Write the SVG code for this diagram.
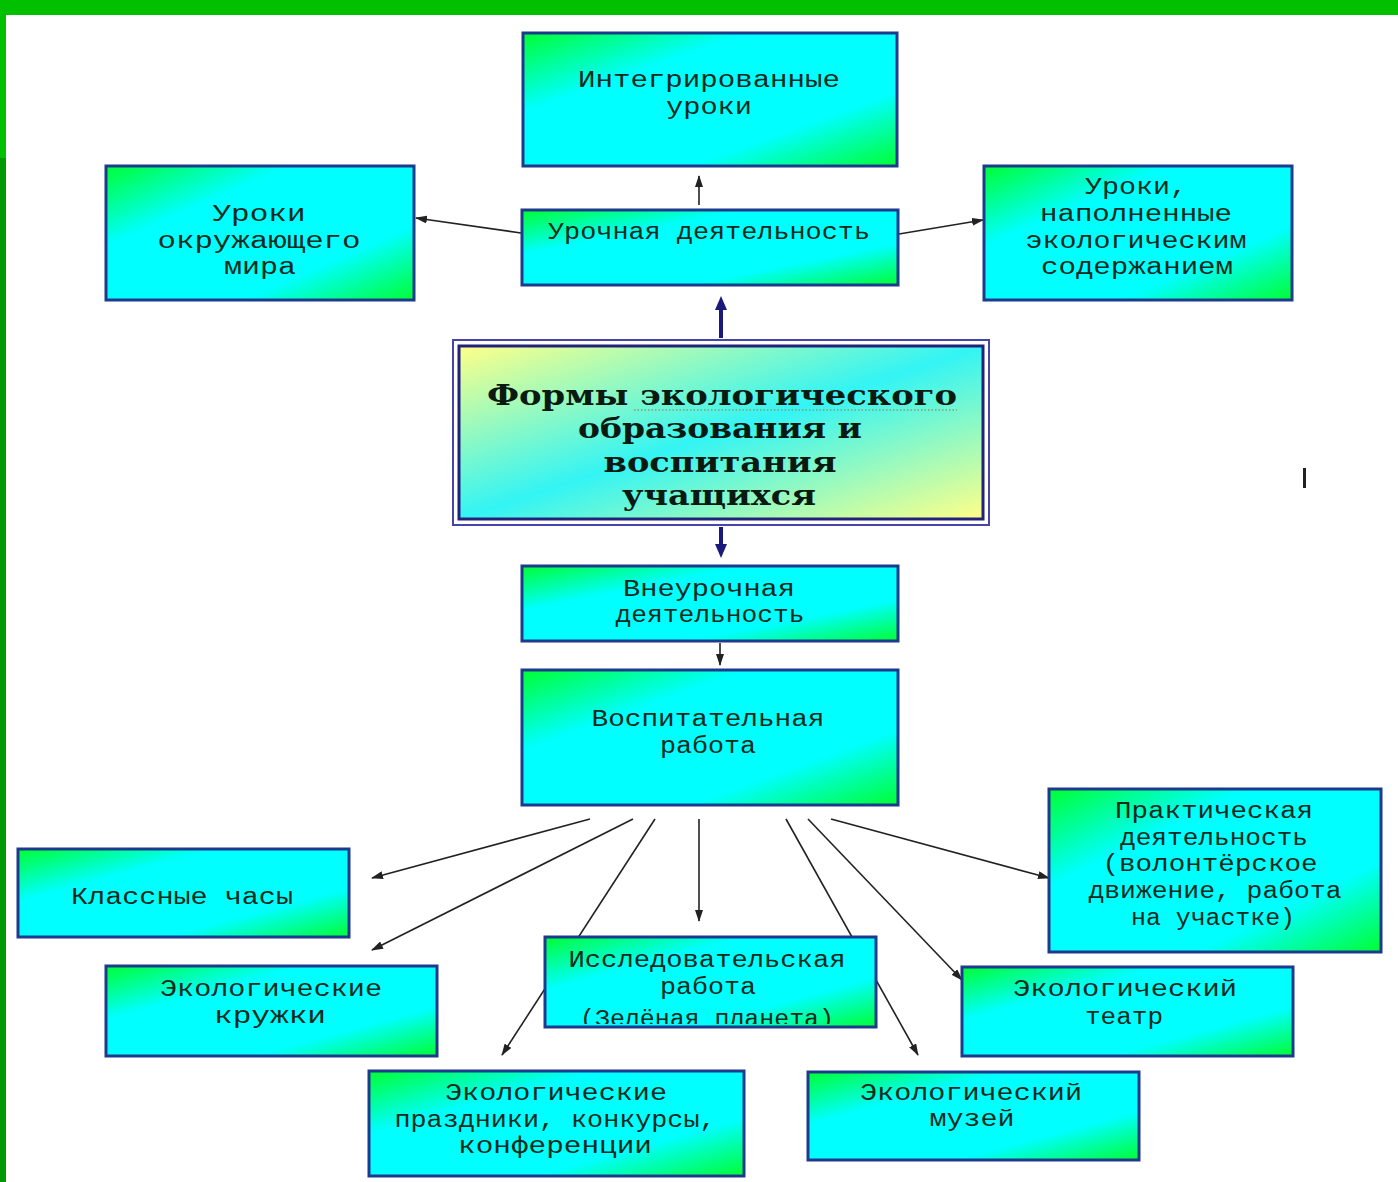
<svg xmlns="http://www.w3.org/2000/svg" width="1398" height="1182" viewBox="0 0 1398 1182">
<style>
.n{fill:url(#g);stroke:#1e3a8c;stroke-width:3}
.t{font-family:"Liberation Mono","DejaVu Sans Mono",monospace;font-size:23px;fill:#0d2b1c;text-anchor:middle}
.c{fill:none;stroke:#222;stroke-width:1.6;marker-end:url(#a)}
.b{fill:none;stroke:#1a1a7a;stroke-width:4;marker-end:url(#nb)}
.h{font-family:"DejaVu Serif","Liberation Serif",serif;font-weight:bold;font-size:27px;fill:#0a1a10;text-anchor:middle}
</style>
<defs>
<linearGradient id="g" x1="0" y1="0" x2="1" y2="1">
<stop offset="0" stop-color="#00ff33"/>
<stop offset="0.3" stop-color="#00ffff"/>
<stop offset="0.72" stop-color="#00ffff"/>
<stop offset="1" stop-color="#00ff33"/>
</linearGradient>
<linearGradient id="gy" x1="0" y1="0" x2="1" y2="1">
<stop offset="0" stop-color="#ffff88"/>
<stop offset="0.5" stop-color="#33f4f4"/>
<stop offset="1" stop-color="#ffff88"/>
</linearGradient>
<marker id="a" viewBox="0 0 12 8" refX="11" refY="4" markerWidth="12" markerHeight="8" markerUnits="userSpaceOnUse" orient="auto">
<path d="M0,0 L12,4 L0,8 z" fill="#222"/>
</marker>
<marker id="nb" viewBox="0 0 14 12" refX="9" refY="6" markerWidth="14" markerHeight="12" markerUnits="userSpaceOnUse" orient="auto">
<path d="M0,0 L14,6 L0,12 z" fill="#1a1a7a"/>
</marker>
<clipPath id="cp10"><rect x="547" y="939" width="327" height="85"/></clipPath>
</defs>
<rect x="0" y="0" width="1398" height="1182" fill="#ffffff"/>
<rect x="0" y="0" width="1398" height="15" fill="#00c000"/>
<rect x="0" y="0" width="6" height="158" fill="#00c000"/>
<rect x="0" y="158" width="6" height="1024" fill="#009a00"/>

<g id="connectors">
<line class="c" x1="699" y1="205" x2="699" y2="176"/>
<line class="c" x1="521" y1="233" x2="416" y2="218"/>
<line class="c" x1="899" y1="234" x2="983" y2="220"/>
<line class="b" x1="721" y1="338" x2="721" y2="301"/>
<line class="b" x1="721" y1="527" x2="721" y2="553"/>
<line class="c" x1="720" y1="643" x2="720" y2="665"/>
<line class="c" x1="590" y1="819" x2="372" y2="878"/>
<line class="c" x1="633" y1="819" x2="372" y2="950"/>
<line class="c" x1="655" y1="819" x2="502" y2="1055"/>
<line class="c" x1="699" y1="819" x2="699" y2="921"/>
<line class="c" x1="786" y1="819" x2="918" y2="1055"/>
<line class="c" x1="808" y1="819" x2="962" y2="980"/>
<line class="c" x1="831" y1="819" x2="1049" y2="878"/>
</g>

<g id="n1">
<rect class="n" x="523" y="33" width="374" height="133"/>
<text class="t" x="709" y="87" textLength="262" lengthAdjust="spacingAndGlyphs">Интегрированные</text>
<text class="t" x="709" y="114" textLength="86" lengthAdjust="spacingAndGlyphs">уроки</text>
</g>
<g id="n2">
<rect class="n" x="106" y="166" width="308" height="134"/>
<text class="t" x="259" y="221" textLength="93" lengthAdjust="spacingAndGlyphs">Уроки</text>
<text class="t" x="259" y="248" textLength="203" lengthAdjust="spacingAndGlyphs">окружающего</text>
<text class="t" x="260" y="274" textLength="72" lengthAdjust="spacingAndGlyphs">мира</text>
</g>
<g id="n3">
<rect class="n" x="522" y="210" width="376" height="75"/>
<text class="t" x="709" y="239" textLength="322" lengthAdjust="spacingAndGlyphs">Урочная деятельность</text>
</g>
<g id="n4">
<rect class="n" x="984" y="166" width="308" height="134"/>
<text class="t" x="1136" y="194" textLength="102" lengthAdjust="spacingAndGlyphs">Уроки,</text>
<text class="t" x="1136" y="221" textLength="192" lengthAdjust="spacingAndGlyphs">наполненные</text>
<text class="t" x="1136" y="248" textLength="221" lengthAdjust="spacingAndGlyphs">экологическим</text>
<text class="t" x="1137" y="274" textLength="192" lengthAdjust="spacingAndGlyphs">содержанием</text>
</g>
<g id="n5">
<rect x="453" y="340" width="536" height="185" fill="#ffffff" stroke="#4646a8" stroke-width="2"/>
<rect x="459" y="346" width="524" height="173" fill="url(#gy)" stroke="#22227a" stroke-width="3"/>
<text class="h" x="722" y="405" textLength="470" lengthAdjust="spacingAndGlyphs">Формы экологического</text>
<line x1="634" y1="410" x2="957" y2="410" stroke="#7f9f78" stroke-width="1.5" stroke-dasharray="1.5 2"/>
<text class="h" x="720" y="438" textLength="284" lengthAdjust="spacingAndGlyphs">образования и</text>
<text class="h" x="720" y="472" textLength="233" lengthAdjust="spacingAndGlyphs">воспитания</text>
<text class="h" x="719" y="505" textLength="194" lengthAdjust="spacingAndGlyphs">учащихся</text>
</g>
<g id="n6">
<rect class="n" x="522" y="566" width="376" height="75"/>
<text class="t" x="709" y="596" textLength="172" lengthAdjust="spacingAndGlyphs">Внеурочная</text>
<text class="t" x="710" y="622" textLength="189" lengthAdjust="spacingAndGlyphs">деятельность</text>
</g>
<g id="n7">
<rect class="n" x="522" y="670" width="376" height="135"/>
<text class="t" x="708" y="726" textLength="233" lengthAdjust="spacingAndGlyphs">Воспитательная</text>
<text class="t" x="708" y="753" textLength="96" lengthAdjust="spacingAndGlyphs">работа</text>
</g>
<g id="n8">
<rect class="n" x="18" y="849" width="331" height="88"/>
<text class="t" x="182" y="904" textLength="222" lengthAdjust="spacingAndGlyphs">Классные часы</text>
</g>
<g id="n9">
<rect class="n" x="106" y="966" width="331" height="90"/>
<text class="t" x="271" y="996" textLength="222" lengthAdjust="spacingAndGlyphs">Экологические</text>
<text class="t" x="270" y="1023" textLength="112" lengthAdjust="spacingAndGlyphs">кружки</text>
</g>
<g id="n10">
<rect class="n" x="545" y="937" width="331" height="90"/>
<g clip-path="url(#cp10)">
<text class="t" x="707" y="967" textLength="277" lengthAdjust="spacingAndGlyphs">Исследовательская</text>
<text class="t" x="708" y="994" textLength="96" lengthAdjust="spacingAndGlyphs">работа</text>
<text class="t" x="707" y="1026" textLength="254" lengthAdjust="spacingAndGlyphs">(Зелёная планета)</text>
</g>
</g>
<g id="n11">
<rect class="n" x="1049" y="789" width="332" height="163"/>
<text class="t" x="1214" y="818" textLength="198" lengthAdjust="spacingAndGlyphs">Практическая</text>
<text class="t" x="1214" y="845" textLength="188" lengthAdjust="spacingAndGlyphs">деятельность</text>
<text class="t" x="1210" y="871" textLength="215" lengthAdjust="spacingAndGlyphs">(волонтёрское</text>
<text class="t" x="1215" y="898" textLength="253" lengthAdjust="spacingAndGlyphs">движение, работа</text>
<text class="t" x="1213" y="925" textLength="164" lengthAdjust="spacingAndGlyphs">на участке)</text>
</g>
<g id="n12">
<rect class="n" x="962" y="967" width="331" height="89"/>
<text class="t" x="1125" y="996" textLength="224" lengthAdjust="spacingAndGlyphs">Экологический</text>
<text class="t" x="1124" y="1024" textLength="78" lengthAdjust="spacingAndGlyphs">театр</text>
</g>
<g id="n13">
<rect class="n" x="369" y="1071" width="375" height="105"/>
<text class="t" x="556" y="1100" textLength="222" lengthAdjust="spacingAndGlyphs">Экологические</text>
<text class="t" x="555" y="1127" textLength="321" lengthAdjust="spacingAndGlyphs">праздники, конкурсы,</text>
<text class="t" x="555" y="1153" textLength="194" lengthAdjust="spacingAndGlyphs">конференции</text>
</g>
<g id="n14">
<rect class="n" x="808" y="1072" width="331" height="88"/>
<text class="t" x="971" y="1100" textLength="222" lengthAdjust="spacingAndGlyphs">Экологический</text>
<text class="t" x="972" y="1126" textLength="85" lengthAdjust="spacingAndGlyphs">музей</text>
</g>
<rect x="1303" y="468" width="3" height="20" fill="#222"/>
</svg>
